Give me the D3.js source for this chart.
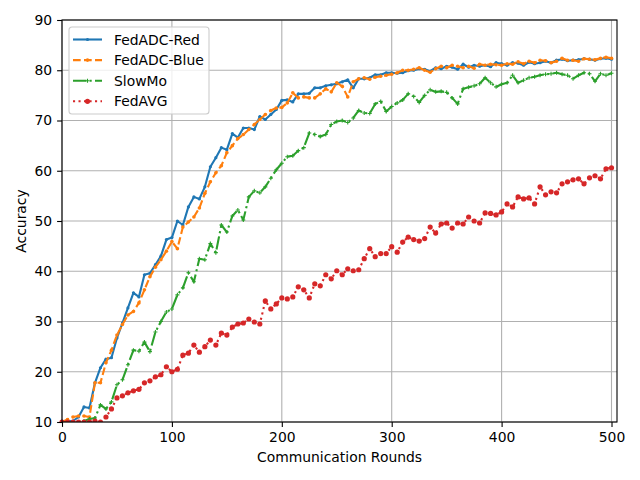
<!DOCTYPE html>
<html>
<head>
<meta charset="utf-8">
<script src="https://cdn.jsdelivr.net/npm/d3@7"></script>
<style>
  body { margin: 0; background: #fff; }
  text { font-family: "DejaVu Sans", sans-serif; }
</style>
</head>
<body>
<div id="chart"></div>
<script>
// rounds at which accuracy was logged
var rounds = d3.range(0, 501, 5)

var fedadcRed = [
  10.2, 10.2, 10.2, 11.0, 13.0, 12.8, 17.8, 20.8, 22.5, 22.8,
  26.7, 29.7, 32.7, 35.7, 34.9, 39.3, 39.6, 41.3, 43.0, 46.3,
  46.7, 50.0, 49.2, 52.8, 54.8, 54.4, 56.8, 60.8, 62.6, 64.6,
  64.2, 67.4, 66.6, 68.5, 68.5, 68.2, 70.8, 70.2, 71.2, 72.2,
  74.0, 74.1, 73.7, 75.3, 75.3, 75.4, 76.5, 76.5, 76.9, 77.1,
  77.3, 77.7, 78.1, 76.5, 78.3, 78.3, 78.5, 79.1, 79.1, 79.5,
  79.5, 79.4, 79.5, 79.9, 80.0, 80.3, 80.2, 79.8, 80.5, 80.3,
  80.8, 80.6, 80.2, 81.2, 80.6, 81.0, 80.8, 81.0, 80.7, 81.5,
  81.3, 81.0, 81.5, 81.4, 81.0, 81.6, 81.3, 81.5, 81.8, 81.5,
  82.0, 82.2, 81.9, 82.0, 82.1, 82.3, 82.2, 82.0, 82.3, 82.4,
  82.2
]

var fedadcBlue = [
  10.0, 10.5, 11.0, 11.2, 11.2, 11.0, 17.8, 17.8, 21.8, 24.3,
  27.3, 29.4, 31.3, 32.0, 33.7, 36.3, 38.9, 40.8, 42.3, 44.0,
  45.9, 44.5, 48.8, 49.8, 50.8, 52.6, 55.5, 57.8, 59.6, 61.0,
  63.6, 65.0, 66.4, 67.2, 68.2, 69.2, 70.2, 71.2, 72.0, 72.5,
  72.6, 73.5, 75.5, 74.5, 74.7, 74.5, 74.5, 75.3, 76.3, 75.7,
  77.5, 76.8, 74.7, 77.7, 78.3, 78.5, 78.2, 78.6, 78.8, 79.0,
  79.2, 79.5, 80.0, 80.0, 80.2, 80.5, 80.0, 79.6, 80.3, 80.8,
  80.5, 81.0, 80.8, 80.5, 80.8, 80.4, 81.2, 81.0, 81.2, 81.1,
  81.0, 81.3, 81.2, 81.7, 81.3, 81.8, 81.5, 82.0, 81.9, 81.5,
  81.8, 82.4, 82.0, 82.0, 81.8, 82.3, 82.2, 82.1, 82.4, 82.6,
  82.4
]

var slowMo = [
  10.0, 10.0, 10.0, 10.0, 10.2, 10.6, 10.8, 13.4, 12.6, 14.0,
  17.4, 18.4, 21.4, 24.3, 24.1, 25.9, 24.0, 27.9, 30.0, 31.9,
  32.5, 35.3, 36.7, 39.7, 37.9, 42.5, 42.3, 45.5, 43.7, 49.2,
  47.8, 51.0, 52.2, 50.2, 54.8, 56.0, 55.6, 56.8, 58.5, 60.2,
  61.5, 62.8, 63.0, 64.0, 64.6, 67.5, 67.2, 66.8, 67.2, 69.2,
  69.8, 70.0, 69.6, 70.5, 72.0, 71.5, 71.4, 73.3, 73.8, 71.8,
  72.8, 73.5, 74.1, 75.3, 74.8, 73.6, 75.0, 76.1, 75.7, 75.8,
  75.6, 74.5, 73.3, 76.3, 76.6, 76.9, 77.3, 78.5, 77.5, 76.7,
  77.2, 77.5, 79.0, 77.5, 78.0, 78.5, 78.7, 79.0, 79.2, 79.3,
  79.5, 79.2, 79.0, 78.3, 79.0, 79.5, 79.3, 77.8, 79.3, 79.0,
  79.4
]

var fedAvg = [
  10.0, 10.0, 10.0, 10.0, 10.0, 10.0, 10.2, 10.0, 11.0, 12.6,
  14.8, 15.2, 15.8, 16.2, 16.5, 17.8, 18.2, 19.0, 19.4, 21.0,
  20.0, 20.5, 23.3, 23.7, 25.3, 23.9, 25.0, 26.3, 25.3, 27.7,
  27.3, 28.9, 29.5, 29.7, 30.5, 29.9, 29.5, 34.1, 32.5, 33.5,
  34.7, 34.5, 34.9, 36.9, 36.3, 34.7, 37.5, 37.1, 39.3, 38.5,
  40.1, 39.3, 40.5, 40.1, 40.3, 42.5, 44.5, 42.9, 43.5, 43.5,
  44.9, 43.8, 45.8, 46.8, 46.3, 46.0, 46.5, 48.8, 47.6, 49.4,
  49.6, 48.6, 49.6, 49.4, 50.8, 50.0, 49.6, 51.6, 51.5, 51.2,
  51.8, 53.4, 52.8, 54.8, 54.4, 54.6, 53.4, 56.8, 55.2, 55.8,
  55.6, 57.4, 57.8, 58.2, 58.4, 57.4, 58.6, 59.0, 58.4, 60.4,
  60.6
]

var seriesNames = ["FedADC-Red", "FedADC-Blue", "SlowMo", "FedAVG"]
var xTicks = [0, 100, 200, 300, 400, 500]
var yTicks = [10, 20, 30, 40, 50, 60, 70, 80, 90]

function makeChart() {
  var width = 640
  var height = 480
  var margin = { top: 20, right: 23, bottom: 58, left: 62 }
  var plotW = width - margin.left - margin.right
  var plotH = height - margin.top - margin.bottom

  // matplotlib tab colours, one style per series
  var styles = [
    { color: "#1f77b4", dash: null, marker: "dot", r: 1.6 },
    { color: "#ff7f0e", dash: "7.7,3.3", marker: "dot", r: 1.8 },
    { color: "#2ca02c", dash: "13.3,3.3,2.1,3.3", marker: "plus", r: 2 },
    { color: "#d62728", dash: "2.1,3.4", marker: "dot", r: 2.6 }
  ]

  var series = [fedadcRed, fedadcBlue, slowMo, fedAvg].map(function (vals, i) {
    return {
      name: seriesNames[i],
      style: styles[i],
      points: vals.map(function (v, j) { return { x: rounds[j], y: v } })
    }
  })

  var x = d3.scaleLinear().domain([0, 505]).range([0, plotW])
  var y = d3.scaleLinear().domain([10, 90]).range([plotH, 0])

  var svg = d3.select("#chart")
    .append("svg")
    .attr("width", width)
    .attr("height", height)

  var g = svg.append("g")
    .attr("transform", "translate(" + margin.left + "," + margin.top + ")")

  // grid
  g.append("g").selectAll("line")
    .data(xTicks)
    .enter().append("line")
    .attr("x1", function (d) { return x(d) })
    .attr("x2", function (d) { return x(d) })
    .attr("y1", 0).attr("y2", plotH)
    .attr("stroke", "#b0b0b0").attr("stroke-width", 1.1)

  g.append("g").selectAll("line")
    .data(yTicks)
    .enter().append("line")
    .attr("y1", function (d) { return y(d) })
    .attr("y2", function (d) { return y(d) })
    .attr("x1", 0).attr("x2", plotW)
    .attr("stroke", "#b0b0b0").attr("stroke-width", 1.1)

  var clip = svg.append("clipPath").attr("id", "clip")
  clip.append("rect").attr("x", -3).attr("y", -3).attr("width", plotW + 6).attr("height", plotH + 3)

  var line = d3.line()
    .x(function (d) { return x(d.x) })
    .y(function (d) { return y(d.y) })

  var lines = g.append("g").attr("clip-path", "url(#clip)")

  series.forEach(function (s) {
    var sg = lines.append("g")
    sg.append("path")
      .datum(s.points)
      .attr("d", line)
      .attr("fill", "none")
      .attr("stroke", s.style.color)
      .attr("stroke-width", 2.1)
      .attr("stroke-dasharray", s.style.dash)
      .attr("stroke-linejoin", "round")

    drawMarkers(sg, s.points.map(function (p) { return [x(p.x), y(p.y)] }), s.style)
  })

  // axes
  var xAxis = d3.axisBottom(x).tickValues(xTicks).tickSize(4.9).tickPadding(4.9)
  var yAxis = d3.axisLeft(y).tickValues(yTicks).tickSize(4.9).tickPadding(4.9)

  var xg = g.append("g").attr("transform", "translate(0," + plotH + ")").call(xAxis)
  var yg = g.append("g").call(yAxis)

  ;[xg, yg].forEach(function (ax) {
    ax.select(".domain").remove()
    ax.selectAll(".tick line").attr("stroke", "#000").attr("stroke-width", 1.1)
    ax.selectAll(".tick text")
      .attr("fill", "#000")
      .style("font-size", "13.9px")
      .style("font-family", "DejaVu Sans, sans-serif")
  })

  // frame
  g.append("rect")
    .attr("width", plotW).attr("height", plotH)
    .attr("fill", "none").attr("stroke", "#000").attr("stroke-width", 1.1)

  // axis titles
  svg.append("text")
    .attr("x", margin.left + plotW / 2)
    .attr("y", 462)
    .attr("text-anchor", "middle")
    .style("font-size", "13.9px")
    .text("Communication Rounds")

  svg.append("text")
    .attr("transform", "translate(26," + (margin.top + plotH / 2) + ") rotate(-90)")
    .attr("text-anchor", "middle")
    .style("font-size", "13.9px")
    .text("Accuracy")

  // legend
  var leg = svg.append("g").attr("transform", "translate(69,27)")
  leg.append("rect")
    .attr("width", 140).attr("height", 87)
    .attr("rx", 3)
    .attr("fill", "#fff").attr("fill-opacity", 0.8)
    .attr("stroke", "#cccccc").attr("stroke-width", 1.1)

  series.forEach(function (s, i) {
    var ly = 12.5 + i * 20.6
    var item = leg.append("g")
    item.append("line")
      .attr("x1", 4).attr("x2", 33)
      .attr("y1", ly).attr("y2", ly)
      .attr("stroke", s.style.color)
      .attr("stroke-width", 2.1)
      .attr("stroke-dasharray", s.style.dash)
    drawMarkers(item, [[18.5, ly]], s.style)
    item.append("text")
      .attr("x", 45).attr("y", ly + 5)
      .style("font-size", "13.9px")
      .text(s.name)
  })
}

function drawMarkers(sel, pts, style) {
  if (style.marker === "plus") {
    sel.selectAll(".mk")
      .data(pts)
      .enter().append("path")
      .attr("class", "mk")
      .attr("d", function (p) {
        var r = style.r
        return "M" + (p[0] - r) + "," + p[1] + "h" + (2 * r) +
          "M" + p[0] + "," + (p[1] - r) + "v" + (2 * r)
      })
      .attr("stroke", style.color)
      .attr("stroke-width", 1.1)
  } else {
    sel.selectAll(".mk")
      .data(pts)
      .enter().append("circle")
      .attr("class", "mk")
      .attr("cx", function (p) { return p[0] })
      .attr("cy", function (p) { return p[1] })
      .attr("r", style.r)
      .attr("fill", style.color)
  }
}

makeChart()
</script>
</body>
</html>
